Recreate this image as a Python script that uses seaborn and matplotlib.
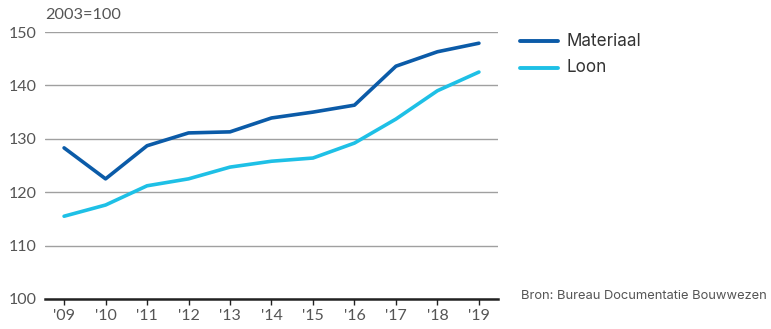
import matplotlib
matplotlib.use("Agg")
import matplotlib.pyplot as plt
import seaborn as sns
import pandas as pd

years = ["'09", "'10", "'11", "'12", "'13", "'14", "'15", "'16", "'17", "'18", "'19"]
materiaal = [128.3, 122.5, 128.7, 131.1, 131.3, 133.9, 135.0, 136.3, 143.6, 146.3, 147.9]
loon = [115.5, 117.6, 121.2, 122.5, 124.7, 125.8, 126.4, 129.2, 133.7, 139.0, 142.5]
series = ["Materiaal", "Loon"]
colors = ["#0b5ba8", "#1ec0e6"]
yticks = [100, 110, 120, 130, 140, 150]

df = pd.DataFrame({
    "x": list(range(len(years))) * 2,
    "value": materiaal + loon,
    "serie": [series[0]] * len(years) + [series[1]] * len(years),
})

sns.set_theme(style="white")
plt.rcParams["font.family"] = ["Lato", "DejaVu Sans"]
text_color = "#555555"
label_font = ["Inter", "DejaVu Sans"]

fig = plt.figure(figsize=(7.71, 3.29), dpi=100)
ax = fig.add_axes([45 / 771, 1 - 299 / 329, (498 - 45) / 771, (299 - 32) / 329])

sns.lineplot(data=df, x="x", y="value", hue="serie", palette=colors,
             linewidth=2.6, ax=ax, legend=False)

ax.set_xlim(-0.46, 10.46)
ax.set_ylim(100, 150)
ax.set_yticks(yticks)
ax.set_xticks(range(len(years)))
ax.set_xticklabels(years)
ax.grid(axis="y", color="#a0a0a0", linewidth=1)
ax.set_axisbelow(True)
for s in ["left", "right", "top"]:
    ax.spines[s].set_visible(False)
ax.spines["bottom"].set_color("#222222")
ax.spines["bottom"].set_linewidth(1.8)
ax.tick_params(axis="x", length=4, width=1, color="#222222", colors=text_color,
               labelsize=11.5, pad=3, bottom=True)
ax.tick_params(axis="y", length=0, colors=text_color, labelsize=11.5, pad=6)
ax.set_xlabel("")
ax.set_ylabel("")

fig.text(45 / 771, 1 - 15 / 329, "2003=100", color=text_color, fontsize=11.7,
         va="center", ha="left")

# legend
for i, (name, col) in enumerate(zip(series, colors)):
    yy = 1 - (41 + 26.5 * i) / 329
    fig.add_artist(plt.Line2D([520 / 771, 558 / 771], [yy, yy], color=col,
                              linewidth=2.8, transform=fig.transFigure))
    fig.text(566 / 771, yy, name, color="#333333", fontsize=12.3,
             family=label_font, va="center", ha="left")

fig.text(521 / 771, 1 - 296 / 329, "Bron: Bureau Documentatie Bouwwezen",
         color=text_color, fontsize=9.3, family=label_font, va="center", ha="left")

fig.savefig("out.png", dpi=100)
